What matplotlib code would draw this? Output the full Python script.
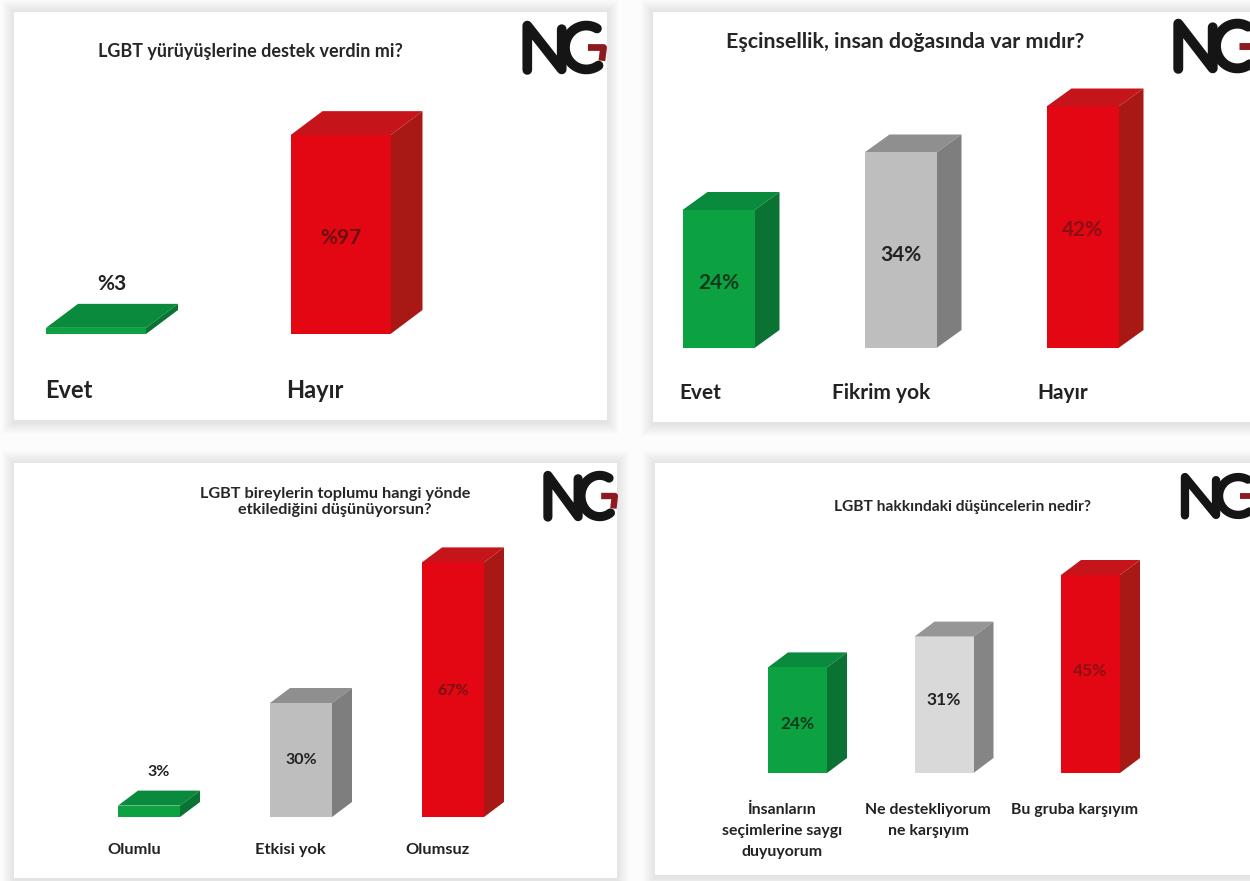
import numpy as np
import matplotlib
matplotlib.use("Agg")
import matplotlib.pyplot as plt
from matplotlib.patches import Polygon, Rectangle
from matplotlib.lines import Line2D

plt.rcParams['font.family'] = ['Lato', 'DejaVu Sans']
plt.rcParams['font.weight'] = 'bold'

W, H = 1250, 881

# chart data
titles = ["LGBT yürüyüşlerine destek verdin mi?",
          "Eşcinsellik, insan doğasında var mıdır?",
          "LGBT bireylerin toplumu hangi yönde\netkilediğini düşünüyorsun?",
          "LGBT hakkındaki düşüncelerin nedir?"]

cats1 = ["Evet", "Hayır"]
vals1 = [3, 97]
text1 = ["%3", "%97"]

cats2 = ["Evet", "Fikrim yok", "Hayır"]
vals2 = [24, 34, 42]
text2 = ["24%", "34%", "42%"]

cats3 = ["Olumlu", "Etkisi yok", "Olumsuz"]
vals3 = [3, 30, 67]
text3 = ["3%", "30%", "67%"]

cats4 = ["İnsanların\nseçimlerine saygı\nduyuyorum", "Ne destekliyorum\nne karşıyım", "Bu gruba karşıyım"]
vals4 = [24, 31, 45]
text4 = ["24%", "31%", "45%"]

# colours: front, top, side
GREEN = ("#0ca241", "#0a8a3c", "#0a7334")
GRAY = ("#bebebe", "#8f8f8f", "#7e7e7e")
LIGHT = ("#d9d9d9", "#969696", "#858585")
RED = ("#e30613", "#c5141a", "#a81916")

# pixel layout of the four panels
panels = [
    dict(card=(14, 12, 607, 420), first=96, step=244.5, bw=100, base=334, scale=2.05, dx=32, dy=24,
         cats=cats1, vals=vals1, text=text1, cols=[GREEN, RED], vsize=15, vcol=["#222222", "#6b0f10"],
         vshift=[2, 3], title_xy=(250, 51), tsize=13, csize=17, cat_x=[69, 315], cat_y=391,
         logo=(524, 22, 82, 51)),
    dict(card=(653, 12, 1250, 422), first=718.5, step=182, bw=72, base=348, scale=5.75, dx=25, dy=18,
         cats=cats2, vals=vals2, text=text2, cols=[GREEN, GRAY, RED], vsize=15, vcol=["#0c3a1c", "#222222", "#8a1014"],
         vshift=[4, 5, 3], title_xy=(905, 42), tsize=15.4, csize=15, cat_x=[700, 881, 1063], cat_y=393,
         logo=(1175, 20, 82, 52)),
    dict(card=(14, 463, 617, 878), first=149, step=152, bw=62, base=817, scale=3.8, dx=20, dy=15,
         cats=cats3, vals=vals3, text=text3, cols=[GREEN, GRAY, RED], vsize=11.5, vcol=["#222222", "#222222", "#7a0f12"],
         vshift=[3, 0, 1], title_xy=(335, 502), tsize=11.7, csize=11.8, cat_x=[134, 290, 437], cat_y=850,
         logo=(545, 472, 72, 48)),
    dict(card=(655, 463, 1250, 875), first=797.5, step=146.5, bw=59, base=773, scale=4.4, dx=20, dy=15,
         cats=cats4, vals=vals4, text=text4, cols=[GREEN, LIGHT, RED], vsize=12.5, vcol=["#0c3a1c", "#222222", "#8a1014"],
         vshift=[4, -5, -3], title_xy=(962, 507), tsize=11.2, csize=11.4, cat_x=[782, 928, 1075], cat_y=803,
         logo=(1182, 474, 74, 44)),
]


def draw_logo(ax, x, y, w, h):
    # N + G drawn with round strokes, unit box
    lw = h * 0.19
    px = 72 / 100
    ax.add_line(Line2D([x + .04 * w, x + .04 * w, x + .46 * w, x + .46 * w],
                       [y + .94 * h, y + .07 * h, y + .93 * h, y + .14 * h],
                       color="#151515", lw=lw * px, solid_capstyle="round", solid_joinstyle="round"))
    t = np.radians(np.linspace(60, 305, 40))
    ax.add_line(Line2D(x + (.76 + .26 * np.cos(t)) * w, y + (.5 - .43 * np.sin(t)) * h,
                       color="#151515", lw=lw * px, solid_capstyle="round"))
    ax.add_line(Line2D([x + .78 * w, x + .97 * w, x + .95 * w],
                       [y + .5 * h, y + .5 * h, y + .76 * h],
                       color="#8c1a1e", lw=lw * .7 * px, solid_capstyle="butt"))


fig = plt.figure(figsize=(W / 100, H / 100), dpi=100, facecolor="#fcfcfc")

# overlay in pixel coordinates for cards, logos and texts
bg = fig.add_axes([0, 0, 1, 1])
bg.set_xlim(0, W)
bg.set_ylim(H, 0)
bg.axis("off")

for title, p in zip(titles, panels):
    l, t, r, b = p["card"]
    # soft shadow
    for i in range(12, 0, -1):
        bg.add_patch(Rectangle((l - i, t - i), r - l + 2 * i, b - t + 2 * i + 2,
                               fc="#8a8a8a", ec="none", alpha=0.014))
    bg.add_patch(Rectangle((l, t), r - l, b - t, fc="white", ec="none"))

    # axes over the whole card, y in percent, x in category steps
    ax = fig.add_axes([l / W, 1 - b / H, (r - l) / W, (b - t) / H])
    ax.patch.set_visible(False)
    ax.set_xlim((l - p["first"]) / p["step"], (r - p["first"]) / p["step"])
    ax.set_ylim((p["base"] - b) / p["scale"], (p["base"] - t) / p["scale"])
    ax.axis("off")

    x = np.arange(len(p["vals"]))
    width = p["bw"] / p["step"]
    ddx = p["dx"] / p["step"]
    ddy = p["dy"] / p["scale"]
    fronts = ax.bar(x, p["vals"], width=width, color=[c[0] for c in p["cols"]], zorder=3)

    for rect, col, val, lab, tc, sh in zip(fronts, p["cols"], p["vals"], p["text"], p["vcol"], p["vshift"]):
        x0 = rect.get_x()
        x1 = x0 + rect.get_width()
        ax.add_patch(Polygon([(x0, val), (x1, val), (x1 + ddx, val + ddy), (x0 + ddx, val + ddy)],
                             fc=col[1], ec="none", zorder=2))
        ax.add_patch(Polygon([(x1, 0), (x1 + ddx, ddy), (x1 + ddx, val + ddy), (x1, val)],
                             fc=col[2], ec="none", zorder=2))
        if val < 5:
            # too flat, label sits over the bar
            ax.text((x0 + x1) / 2 + ddx / 2, val + ddy + (22 - sh) / p["scale"], lab, ha="center", va="center",
                    fontsize=p["vsize"], color=tc, zorder=4)
        else:
            ax.text((x0 + x1) / 2, val / 2 - sh / p["scale"], lab, ha="center", va="center",
                    fontsize=p["vsize"], color=tc, zorder=4)

    for cx, name in zip(p["cat_x"], p["cats"]):
        bg.text(cx, p["cat_y"], name, ha="center", va="center" if len(p["cats"][0]) < 12 else "top",
                fontsize=p["csize"], color="#222222", linespacing=1.65)

    bg.text(p["title_xy"][0], p["title_xy"][1], title, ha="center", va="center",
            fontsize=p["tsize"], color="#262626", linespacing=1.2)
    draw_logo(bg, *p["logo"])

fig.savefig("out.png", dpi=100, facecolor=fig.get_facecolor())
